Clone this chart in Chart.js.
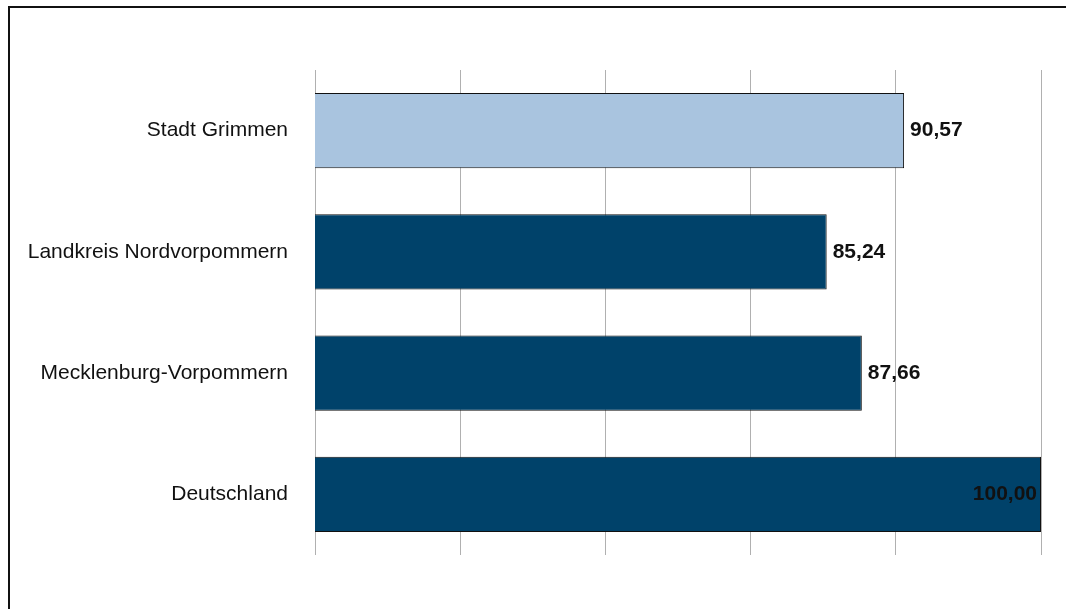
<!DOCTYPE html>
<html>
<head>
<meta charset="utf-8">
<script src="https://cdn.jsdelivr.net/npm/chart.js@4/dist/chart.umd.min.js"></script>
<style>
  html, body { margin: 0; padding: 0; background: #fff; overflow: hidden; }
  #frame {
    position: absolute; left: 8px; top: 6px; width: 1200px; height: 800px;
    border-top: 2px solid #111; border-left: 2px solid #111;
  }
  #wrap { position: absolute; left: 0; top: 0; width: 1066px; height: 609px; }
</style>
</head>
<body>
<div id="frame"></div>
<div id="wrap"><canvas id="indexChart"></canvas></div>
<script>
const regions = ['Stadt Grimmen', 'Landkreis Nordvorpommern', 'Mecklenburg-Vorpommern', 'Deutschland'];
const indexValues = [90.57, 85.24, 87.66, 100.00];
const barColors = ['#A9C4DF', '#00426A', '#00426A', '#00426A'];
const axisMin = 50;
const axisMax = 100;

// Writes the value at the end of each bar, moved inside when it would overflow
const valueLabels = {
    id: 'valueLabels',
    afterDatasetsDraw(chart) {
        const ctx = chart.ctx;
        const area = chart.chartArea;
        const meta = chart.getDatasetMeta(0);
        ctx.save();
        ctx.font = 'bold 21px "Liberation Sans", Arial, sans-serif';
        ctx.fillStyle = '#111';
        ctx.textBaseline = 'middle';
        meta.data.forEach((bar, i) => {
            const text = indexValues[i].toFixed(2).replace('.', ',');
            const w = ctx.measureText(text).width;
            if (bar.x + 6 + w > area.right) {
                ctx.textAlign = 'right';
                ctx.fillText(text, bar.x - 4, bar.y);
            } else {
                ctx.textAlign = 'left';
                ctx.fillText(text, bar.x + 6, bar.y);
            }
        });
        ctx.restore();
    }
};

const ctx = document.getElementById('indexChart').getContext('2d');

const indexChart = new Chart(ctx, {
    type: 'bar',
    data: {
        labels: regions,
        datasets: [{
            data: indexValues,
            backgroundColor: barColors,
            borderColor: '#111',
            borderWidth: 1,
            borderSkipped: false,
            categoryPercentage: 1,
            barPercentage: 0.62
        }]
    },
    options: {
        indexAxis: 'y',
        responsive: true,
        maintainAspectRatio: false,
        animation: false,
        layout: { padding: { left: 0, right: 25, top: 70, bottom: 54 } },
        plugins: {
            legend: { display: false },
            tooltip: { enabled: false }
        },
        scales: {
            x: {
                min: axisMin,
                max: axisMax,
                ticks: { display: false, stepSize: 10 },
                grid: { color: '#b0b0b0', lineWidth: 1, drawTicks: false },
                border: { display: false }
            },
            y: {
                grid: { display: false, drawTicks: false },
                border: { display: false },
                ticks: {
                    color: '#111',
                    padding: 27,
                    font: { family: '"Liberation Sans", Arial, sans-serif', size: 21 }
                },
                afterFit(scale) { scale.width = 315; }
            }
        }
    },
    plugins: [valueLabels]
});
</script>
</body>
</html>
